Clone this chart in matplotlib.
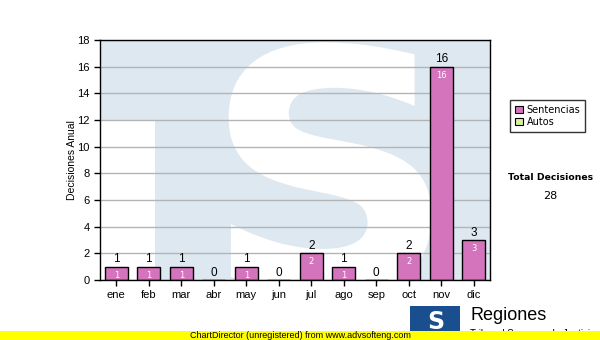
import matplotlib.pyplot as plt
import numpy as np
from matplotlib.patches import Rectangle, PathPatch
from matplotlib.textpath import TextPath
from matplotlib.font_manager import FontProperties
from matplotlib.transforms import Affine2D

meses = ['ene', 'feb', 'mar', 'abr', 'may', 'jun', 'jul', 'ago', 'sep', 'oct', 'nov', 'dic']
sentencias = [1, 1, 1, 0, 1, 0, 2, 1, 0, 2, 16, 3]
autos = [0, 0, 0, 0, 0, 0, 0, 0, 0, 0, 0, 0]
series = ['Sentencias', 'Autos']
y_ticks = [0, 2, 4, 6, 8, 10, 12, 14, 16, 18]

rosa = '#d474bc'
verde = '#d8f0a0'
celeste = '#dee8f1'

fig = plt.figure(figsize=(6, 3.4), dpi=100)
fig.patch.set_facecolor('white')
ax = fig.add_axes([100/600, 1-280/340, 390/600, 240/340])
ax.set_facecolor(celeste)

# marca de agua (logo TS)
ax.add_patch(Rectangle((0, 0), 0.14, 0.667, transform=ax.transAxes,
                       facecolor='white', edgecolor='none', zorder=0))
sp = TextPath((0, 0), 'S', size=100, prop=FontProperties(family='DejaVu Sans', weight='bold'))
v = sp.vertices
x0, x1, y0, y1 = v[:, 0].min(), v[:, 0].max(), v[:, 1].min(), v[:, 1].max()
bx0, bx1, by0, by1 = 0.265, 0.85, -0.06, 0.99
tr = Affine2D().translate(-x0, -y0).scale((bx1-bx0)/(x1-x0), (by1-by0)/(y1-y0)).translate(bx0, by0)
ax.add_patch(PathPatch(tr.transform_path(sp), facecolor='white', edgecolor='none',
                       transform=ax.transAxes, zorder=0, clip_on=True))

x = np.arange(len(meses))
totales = [s + a for s, a in zip(sentencias, autos)]
ax.bar(x, sentencias, width=0.7, color=rosa, edgecolor='black', linewidth=1, zorder=3)

for xi, s, t in zip(x, sentencias, totales):
    ax.annotate(str(t), (xi, t), xytext=(0, 1), textcoords='offset points',
                ha='center', va='bottom', fontsize=8.5, family='Liberation Sans', zorder=4)
    if s > 0:
        ax.annotate(str(s), (xi, s), xytext=(0, -3), textcoords='offset points',
                    ha='center', va='top', fontsize=6, color='white', zorder=4)

ax.set_xlim(-0.5, len(meses) - 0.5)
ax.set_ylim(0, 18)
ax.set_yticks(y_ticks)
ax.set_xticks(x)
ax.set_xticklabels(meses)
ax.tick_params(labelsize=8, length=4, color='black', width=1)
for lab in ax.get_xticklabels() + ax.get_yticklabels():
    lab.set_family('Liberation Sans')
ax.grid(axis='y', color='#b4b4b4', linewidth=1, zorder=1)
ax.set_axisbelow(True)
for s in ax.spines.values():
    s.set_linewidth(1)
    s.set_zorder(5)
ax.set_ylabel('Decisiones Anual', fontsize=7.5, family='Liberation Sans', labelpad=0)

handles = [Rectangle((0, 0), 1, 1, facecolor=rosa, edgecolor='black', linewidth=0.8),
           Rectangle((0, 0), 1, 1, facecolor=verde, edgecolor='black', linewidth=0.8)]
leg = fig.legend(handles, series, loc='upper left', bbox_to_anchor=(510/600, 1-100/340),
                 fontsize=7, frameon=True, fancybox=False, handlelength=0.8, handleheight=0.8,
                 handletextpad=0.4, borderpad=0.5, labelspacing=0.2, borderaxespad=0)
leg.get_frame().set_edgecolor('black')
leg.get_frame().set_linewidth(1)

fig.text(551/600, 1-178/340, 'Total Decisiones', ha='center', va='center',
         fontsize=6.7, fontweight='bold')
fig.text(550/600, 1-196/340, str(sum(totales)), ha='center', va='center', fontsize=8)

# logo inferior
fig.patches.append(Rectangle((410/600, 0), 50/600, (340-306)/340, transform=fig.transFigure,
                             facecolor='#1a4f8f', edgecolor='none', zorder=1))
fig.text(436/600, 1-322/340, 'S', ha='center', va='center', fontsize=17, fontweight='bold',
         color='white', zorder=2)
fig.text(470/600, 1-316/340, 'Regiones', ha='left', va='center', fontsize=13,
         family='Liberation Sans', zorder=2)
fig.text(470/600, 1-334/340, 'Tribunal Supremo de Justicia', ha='left', va='center',
         fontsize=7, family='Liberation Sans', zorder=2)

# banda amarilla
fig.patches.append(Rectangle((0, 0), 1, 9/340, transform=fig.transFigure,
                             facecolor='#ffff00', edgecolor='none', zorder=3))
fig.text(190/600, 4.5/340, 'ChartDirector (unregistered) from www.advsofteng.com',
         ha='left', va='center', fontsize=6.5, family='Liberation Sans', zorder=4)

fig.savefig('out.png', dpi=100)
